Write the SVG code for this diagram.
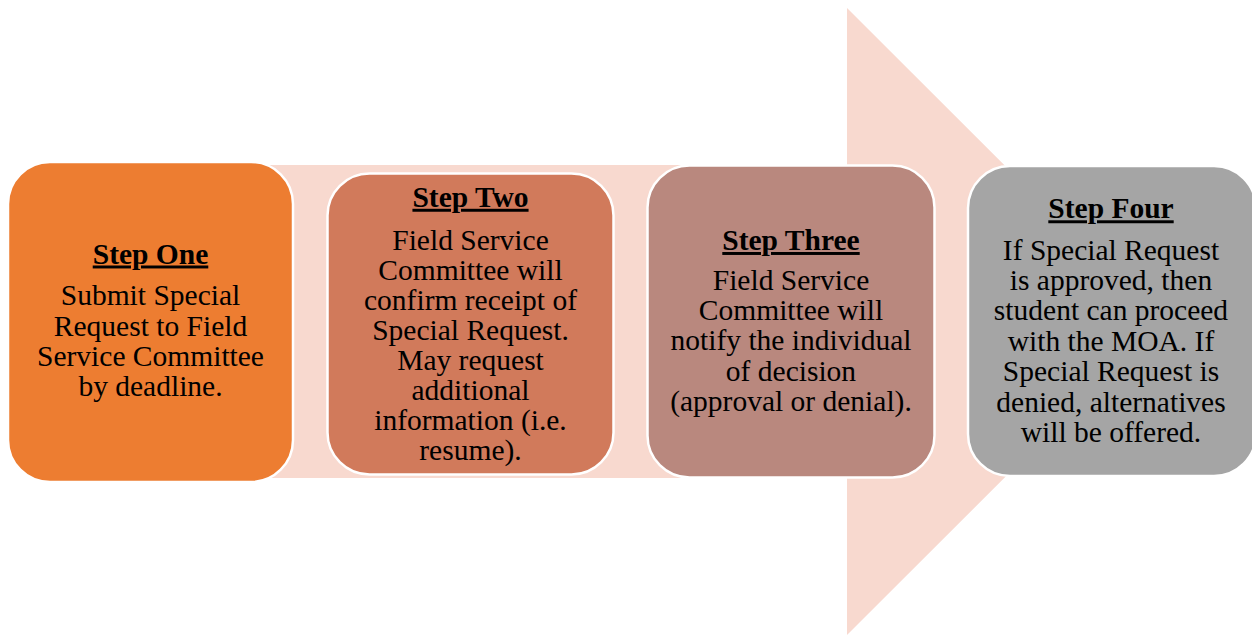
<svg xmlns="http://www.w3.org/2000/svg" width="1252" height="635" viewBox="0 0 1252 635">
<style>
.box{stroke:#FFFFFF;stroke-width:2.5}
.t{font-family:"Liberation Serif","Times New Roman",serif;font-size:29.5px;fill:#000;text-anchor:middle}
.h{font-weight:bold;text-decoration:underline}
</style>
<rect width="1252" height="635" fill="#FFFFFF"/>
<g id="arrow">
<polygon points="80,165 847,165 847,8 1161,321.5 847,635 847,478 80,478" fill="#F8D9CF"/>
</g>
<g id="connectors"></g>
<g id="step1">
<rect class="box" x="8" y="162" width="285" height="320" rx="42" ry="42" fill="#ED7D31"/>
<text class="t h" x="150.5" y="263.5">Step One</text>
<text class="t" x="150.5" y="305.3">Submit Special</text>
<text class="t" x="150.5" y="335.5">Request to Field</text>
<text class="t" x="150.5" y="365.7">Service Committee</text>
<text class="t" x="150.5" y="395.9">by deadline.</text>
</g>
<g id="step2">
<rect class="box" x="327.5" y="173.5" width="286" height="301" rx="42" ry="42" fill="#D17A5B"/>
<text class="t h" x="470.5" y="206.8">Step Two</text>
<text class="t" x="470.5" y="249.5">Field Service</text>
<text class="t" x="470.5" y="279.6">Committee will</text>
<text class="t" x="470.5" y="309.7">confirm receipt of</text>
<text class="t" x="470.5" y="339.8">Special Request.</text>
<text class="t" x="470.5" y="369.9">May request</text>
<text class="t" x="470.5" y="400">additional</text>
<text class="t" x="470.5" y="430.1">information (i.e.</text>
<text class="t" x="470.5" y="460.2">resume).</text>
</g>
<g id="step3">
<rect class="box" x="647.5" y="165.5" width="287" height="312" rx="42" ry="42" fill="#B9887E"/>
<text class="t h" x="791" y="250">Step Three</text>
<text class="t" x="791" y="290">Field Service</text>
<text class="t" x="791" y="320.2">Committee will</text>
<text class="t" x="791" y="350.4">notify the individual</text>
<text class="t" x="791" y="380.6">of decision</text>
<text class="t" x="791" y="410.8">(approval or denial).</text>
</g>
<g id="step4">
<rect class="box" x="968" y="166" width="288" height="310" rx="42" ry="42" fill="#A5A5A5"/>
<text class="t h" x="1111" y="218.3">Step Four</text>
<text class="t" x="1111" y="259.5">If Special Request</text>
<text class="t" x="1111" y="289.9">is approved, then</text>
<text class="t" x="1111" y="320.3">student can proceed</text>
<text class="t" x="1111" y="350.7">with the MOA. If</text>
<text class="t" x="1111" y="381.1">Special Request is</text>
<text class="t" x="1111" y="411.5">denied, alternatives</text>
<text class="t" x="1111" y="441.9">will be offered.</text>
</g>
</svg>
